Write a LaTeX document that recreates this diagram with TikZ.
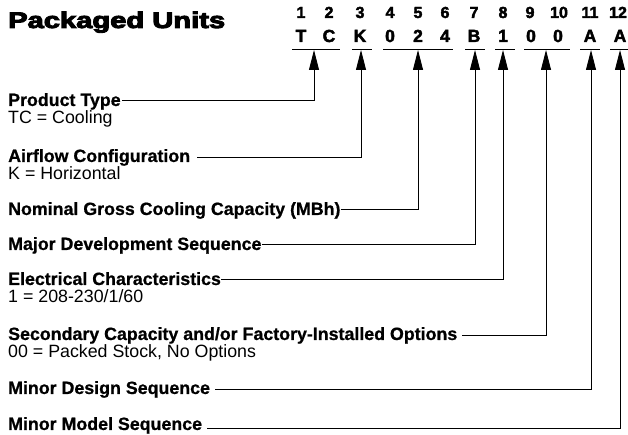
\documentclass[tikz,border=0pt]{standalone}
\usepackage{fontspec}
\setmainfont{Liberation Sans}
\newfontfamily\titlefont[BoldFeatures={FakeBold=4}]{Liberation Sans}
\newfontfamily\codefont[BoldFeatures={FakeBold=2.5}]{Liberation Sans}
\newfontfamily\labfont[BoldFeatures={FakeBold=0.8}]{Liberation Sans}
\usetikzlibrary{arrows.meta}
\begin{document}
\begin{tikzpicture}[x=1pt,y=1pt,
  lbl/.style={anchor=base west,inner sep=0pt,font=\labfont\bfseries\fontsize{17.8}{20}\selectfont},
  sub/.style={anchor=base west,inner sep=0pt,font=\fontsize{17.8}{20}\selectfont},
  num/.style={anchor=base,inner sep=0pt,font=\codefont\bfseries\fontsize{16}{18}\selectfont},
  code/.style={anchor=base,inner sep=0pt,font=\codefont\bfseries\fontsize{17.5}{19}\selectfont},
  uline/.style={line width=1.4pt},
  conn/.style={line width=0.9pt,-{Triangle[length=20pt,width=10pt]}}]
\useasboundingbox (0,0) rectangle (628,435);
% title
\node[anchor=base west,inner sep=0pt,font=\titlefont\bfseries\fontsize{22.5}{25}\selectfont] (title) at (8,407) {\resizebox{217pt}{\height}{Packaged Units}};
% position digits
\foreach \x/\t [count=\i] in {301/1,329/2,360/3,390/4,418/5,445/6,474/7,503/8,530/9,559/10,590/11,618/12}
  \node[num] (n\i) at (\x,417) {\t};
% code characters
\foreach \x/\t [count=\i] in {301/T,329/C,360/K,390/0,418/2,445/4,474/B,503/1,531/0,558/0,590/A,620/A}
  \node[code] (c\i) at (\x,393) {\t};
% underlines
\foreach \a/\b in {292/340,352/372,383/453,465/485,495/515,524/570,580/600,610/628}
  \draw[uline] (\a,385.5) -- (\b,385.5);
% arrow tip points
\coordinate (t1) at (314,385);
\coordinate (t2) at (361,385);
\coordinate (t3) at (418,385);
\coordinate (t4) at (475,385);
\coordinate (t5) at (503,385);
\coordinate (t6) at (546,385);
\coordinate (t7) at (591,385);
\coordinate (t8) at (620,385);
% labels
\node[lbl] (l1) at (8,329) {Product Type};
\node[sub] (s1) at (8,311) {TC = Cooling};
\node[lbl] (l2) at (8,273) {Airflow Configuration};
\node[sub] (s2) at (8,255) {K = Horizontal};
\node[lbl] (l3) at (8,220) {Nominal Gross Cooling Capacity (MBh)};
\node[lbl] (l4) at (8,185) {Major Development Sequence};
\node[lbl] (l5) at (8,150) {Electrical Characteristics};
\node[sub] (s5) at (8,132) {1 = 208-230/1/60};
\node[lbl] (l6) at (8,95) {Secondary Capacity and/or Factory-Installed Options};
\node[sub] (s6) at (8,77) {00 = Packed Stock, No Options};
\node[lbl] (l7) at (8,41) {Minor Design Sequence};
\node[lbl] (l8) at (8,5) {Minor Model Sequence};
% connectors
\draw[conn] (l1.base east) ++(1,6) -| (t1);
\draw[conn] (l2.base east) ++(7,5) -| (t2);
\draw[conn] (l3.base east) ++(0,6) -| (t3);
\draw[conn] (l4.base east) ++(0,6) -| (t4);
\draw[conn] (l5.base east) ++(0,6) -| (t5);
\draw[conn] (l6.base east) ++(5,5) -| (t6);
\draw[conn] (l7.base east) ++(5,5) -| (t7);
\draw[conn] (l8.base east) ++(5,2) -| (t8);
\end{tikzpicture}
\end{document}
